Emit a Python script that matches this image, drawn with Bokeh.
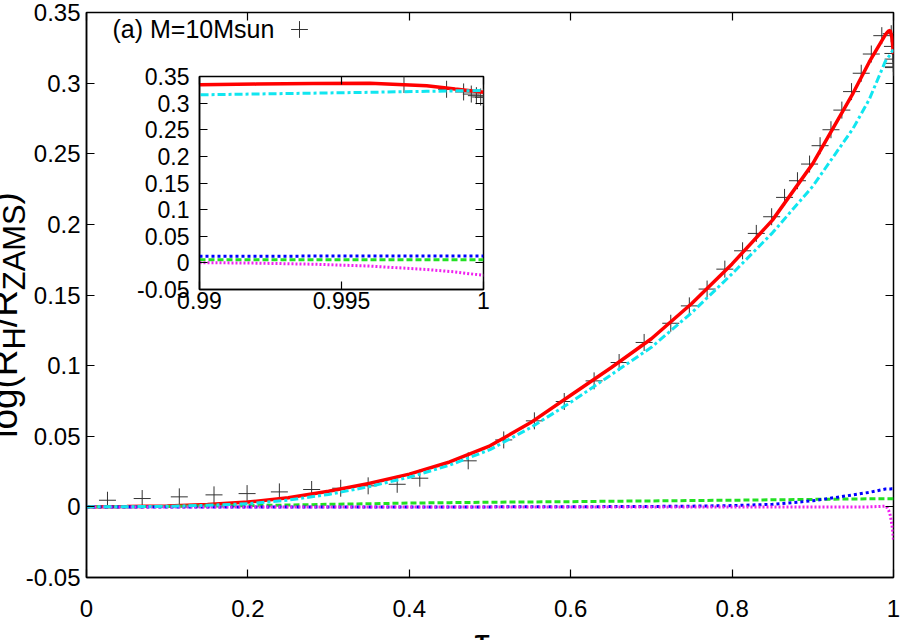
from bokeh.plotting import figure
from bokeh.models import (ColumnDataSource, Range1d, LinearAxis, FixedTicker, Label,
                          Legend, LegendItem, CustomJSTickFormatter, Div)
from bokeh.layouts import column
from bokeh.embed import file_html
from bokeh.resources import INLINE

# ---------------- data ----------------
tau = [0, 0.05, 0.1, 0.15, 0.2, 0.25, 0.3, 0.35, 0.4, 0.45, 0.5, 0.55, 0.6, 0.65,
       0.7, 0.75, 0.8, 0.85, 0.9, 0.95, 0.97, 0.99, 0.992, 0.994, 0.996, 0.998, 0.999, 1.0]
total = [0, 0.0002, 0.0006, 0.0016, 0.0034, 0.0065, 0.0110, 0.0166, 0.0232, 0.0318,
         0.0432, 0.0595, 0.0790, 0.0985, 0.1190, 0.1440, 0.1720, 0.2030, 0.2430, 0.2930,
         0.3150, 0.3344, 0.3357, 0.3370, 0.3372, 0.3325, 0.3265, 0.3206]
term_cyan = [0, 0.0001, 0.0004, 0.0011, 0.0022, 0.0048, 0.0088, 0.0143, 0.0210, 0.0295,
             0.0405, 0.0560, 0.0740, 0.0935, 0.1130, 0.1375, 0.1650, 0.1940, 0.2270, 0.2680,
             0.2885, 0.3156, 0.3172, 0.3187, 0.3203, 0.3222, 0.3230, 0.3237]
term_green = [0, 0.0001, 0.0003, 0.0006, 0.0009, 0.0013, 0.0018, 0.0022, 0.0027, 0.0030,
              0.0033, 0.0035, 0.0037, 0.0040, 0.0042, 0.0045, 0.0047, 0.0050, 0.0053, 0.0056,
              0.0057, 0.0058, 0.0058, 0.0058, 0.0058, 0.0058, 0.0058, 0.0058]
term_blue = [0, 0, 0, 0, 0, 0, 0, 0, 0, 0, 0, 0.0001, 0.0001, 0.0002, 0.0003, 0.0005,
             0.0009, 0.0018, 0.0043, 0.0085, 0.0103, 0.0126, 0.0126, 0.0127, 0.0127,
             0.0128, 0.0128, 0.0128]
term_magenta = [0, 0, 0, 0, 0, 0, 0, 0, 0, 0, 0, 0, 0, 0, 0, 0, 0, 0, 0, 0, 0,
                0.0005, -0.0005, -0.0025, -0.0060, -0.0125, -0.0170, -0.0235]

model_tau = [0.026, 0.069, 0.115, 0.158, 0.199, 0.239, 0.279, 0.315, 0.349, 0.385,
             0.413, 0.473, 0.517, 0.555, 0.592, 0.629, 0.660, 0.691, 0.724, 0.747,
             0.769, 0.791, 0.813, 0.830, 0.849, 0.865, 0.881, 0.896, 0.909, 0.9225,
             0.936, 0.948, 0.960, 0.9725, 0.9855, 0.9972, 0.9987, 0.9993, 0.99957,
             0.99975, 0.9999, 1.0]
model_val = [0.0047, 0.0059, 0.0071, 0.0085, 0.0094, 0.0106, 0.0123, 0.0132, 0.0149, 0.0160,
             0.0203, 0.0326, 0.0474, 0.0609, 0.0746, 0.0892, 0.1022, 0.1164, 0.1300, 0.1423,
             0.1542, 0.1683, 0.1813, 0.1936, 0.2054, 0.2191, 0.2309, 0.2427, 0.2557, 0.2670,
             0.2809, 0.2940, 0.3070, 0.3206, 0.3336, 0.3350, 0.3260, 0.3210, 0.3170,
             0.3140, 0.3115, 0.3110]

main_xticks = [0, 0.2, 0.4, 0.6, 0.8, 1.0]
yticks = [-0.05, 0, 0.05, 0.1, 0.15, 0.2, 0.25, 0.3, 0.35]
inset_xticks = [0.99, 0.995, 1.0]
legend_text = "(a) M=10Msun"
ylabel_html = "log(R<sub>H</sub>/R<sub>ZAMS</sub>)"
xlabel_text = "τ"

FONT = "Liberation Sans"

src = ColumnDataSource(dict(tau=tau, total=total, cyan=term_cyan, green=term_green,
                            blue=term_blue, magenta=term_magenta))
csrc = ColumnDataSource(dict(t=model_tau, v=model_val))

fmt_code = "return String(Math.round(tick*100000)/100000);"


def style_axis(ax, ticks, size):
    ax.ticker = FixedTicker(ticks=ticks)
    ax.formatter = CustomJSTickFormatter(code=fmt_code)
    ax.major_tick_in = 8
    ax.major_tick_out = 0
    ax.minor_tick_line_color = None
    ax.major_tick_line_color = "black"
    ax.major_tick_line_width = 1.2
    ax.axis_line_color = "black"
    ax.axis_line_width = 1.5
    ax.major_label_text_font = FONT
    ax.major_label_text_font_size = size
    ax.major_label_text_color = "black"


def mirror(fig, side, ticks):
    ax = LinearAxis(ticker=FixedTicker(ticks=ticks),
                    formatter=CustomJSTickFormatter(code="return '';"),
                    major_tick_in=8, major_tick_out=0, major_tick_line_width=1.2,
                    minor_tick_line_color=None, axis_line_color=None,
                    major_label_text_font_size="0px", major_label_standoff=0)
    fig.add_layout(ax, side)


def draw_lines(fig):
    r = fig.scatter("t", "v", source=csrc, marker="cross", size=17,
                    line_color="#333333", line_width=1)
    fig.line("tau", "total", source=src, line_color="#ff0000", line_width=3.5)
    fig.line("tau", "green", source=src, line_color="#22e022", line_width=3, line_dash="6 3")
    fig.line("tau", "blue", source=src, line_color="#0000ff", line_width=3, line_dash="3 3")
    fig.line("tau", "magenta", source=src, line_color="#f020f0", line_width=3, line_dash="2 2")
    fig.line("tau", "cyan", source=src, line_color="#10e6f0", line_width=3, line_dash="8 3 3 3")
    return r


# ---------------- main figure ----------------
p = figure(width=913, height=640, x_range=Range1d(0, 1), y_range=Range1d(-0.05, 0.35),
           output_backend="svg", toolbar_location=None,
           min_border_left=86, min_border_right=18, min_border_top=12, min_border_bottom=63)
p.grid.visible = False
p.outline_line_color = "black"
p.outline_line_width = 1.5
style_axis(p.xaxis[0], main_xticks, "24px")
style_axis(p.yaxis[0], yticks, "24px")
p.xaxis[0].major_label_standoff = 22
p.yaxis[0].major_label_standoff = 6
mirror(p, "right", yticks)
mirror(p, "above", main_xticks)

cross_r = draw_lines(p)

# key: text then sample
p.add_layout(Label(x=26, y=549, x_units="screen", y_units="screen", text=legend_text,
                   text_font=FONT, text_font_size="25px", text_baseline="middle",
                   text_align="left", text_color="black"))
leg = Legend(items=[LegendItem(label=" ", renderers=[cross_r])], location=(192, 527),
             glyph_width=42, glyph_height=42, padding=0, margin=0, spacing=0,
             label_standoff=0, label_width=1, border_line_color=None,
             background_fill_alpha=0, label_text_font_size="1px")
p.add_layout(leg)

# ---------------- inset ----------------
q = figure(width=390, height=261, x_range=Range1d(0.99, 1.0), y_range=Range1d(-0.05, 0.35),
           output_backend="svg", toolbar_location=None,
           min_border_left=70, min_border_right=20, min_border_top=16, min_border_bottom=32)
q.grid.visible = False
q.outline_line_color = "black"
q.outline_line_width = 1.5
style_axis(q.xaxis[0], inset_xticks, "23px")
style_axis(q.yaxis[0], yticks, "23px")
q.xaxis[0].major_label_standoff = 2
q.yaxis[0].major_label_standoff = 10
mirror(q, "right", yticks)
mirror(q, "above", inset_xticks)
draw_lines(q)
q.margin = (-580, 0, 319, 113)

# ---------------- axis titles (partly cut by the page edges, as in the source) ----------------
ylab = Div(text=ylabel_html, width=260, height=40,
           styles={"font-family": FONT, "font-size": "37px", "line-height": "40px",
                   "text-align": "center", "white-space": "nowrap", "color": "black",
                   "transform": "rotate(-90deg)", "transform-origin": "50% 50%"})
ylab.margin = (-345, 0, 305, -125)

xlab = Div(text=xlabel_text, width=40, height=17,
           styles={"font-family": FONT, "font-size": "38px", "line-height": "40px",
                   "text-align": "center", "white-space": "nowrap", "color": "black",
                   "overflow": "hidden"})
xlab.margin = (-17, 0, 0, 462)

layout = column(p, q, ylab, xlab, spacing=0)
open("out.html", "w").write(file_html(layout, INLINE))
